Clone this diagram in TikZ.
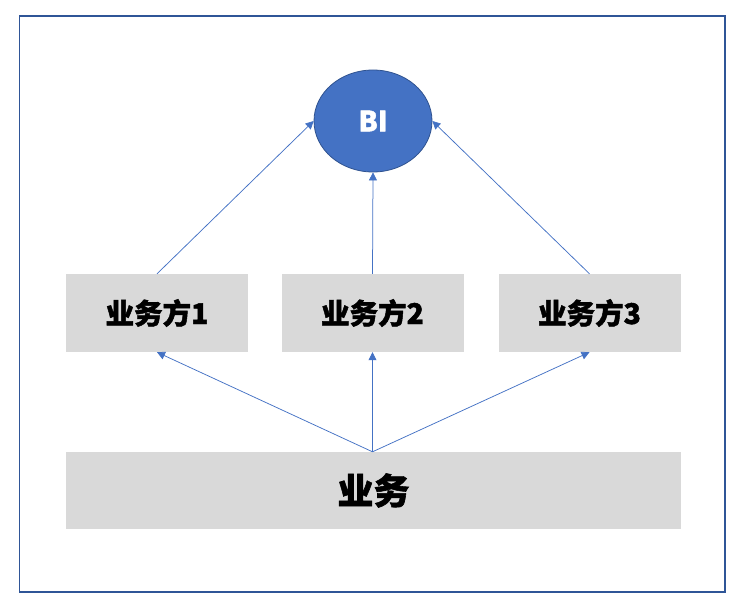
\documentclass[tikz,border=0pt]{standalone}
\usepackage{fontspec}
\newfontfamily\cjk{Noto Sans CJK SC}[BoldFeatures={FakeBold=1.6}]
\usetikzlibrary{shapes.geometric,arrows.meta}
\definecolor{bluefill}{HTML}{4472C4}
\definecolor{blueline}{HTML}{2F528F}
\definecolor{framecol}{HTML}{2F5597}
\definecolor{boxgray}{HTML}{D9D9D9}
\begin{document}
\begin{tikzpicture}[x=1pt, y=-1pt,
  party/.style={shape=rectangle, fill=boxgray, inner sep=0pt, minimum width=182pt, minimum height=78pt, font=\cjk\bfseries\fontsize{28.5}{28.5}\selectfont},
  base/.style={shape=rectangle, fill=boxgray, inner sep=0pt, minimum width=615pt, minimum height=77pt, font=\cjk\bfseries\fontsize{36}{36}\selectfont},
  bistyle/.style={shape=ellipse, fill=bluefill, draw=blueline, line width=0.8pt, inner sep=0pt, minimum width=118pt, minimum height=102pt, text=white, font=\cjk\bfseries\fontsize{28}{28}\selectfont},
  link/.style={draw=bluefill, line width=0.75pt, -{Triangle[length=8pt, width=8pt]}},
]
\useasboundingbox (0,0) rectangle (741,604);

%frame
\draw[framecol, line width=1.5pt] (19.5,16) rectangle (725,592);

%nodes
\node (bi) at (373,121) [bistyle] {BI};
\node (bf1) at (157,313) [party] {业务方1};
\node (bf2) at (372.5,313) [party] {业务方2};
\node (bf3) at (589.5,313) [party] {业务方3};
\node (yw) at (373.5,490.5) [base] {业务};

%arrows up to BI
\draw[link] (bf1.north) -- (bi.west);
\draw[link] (bf2.north) -- (bi.south);
\draw[link] (bf3.north) -- (bi.east);

%arrows from 业务
\draw[link] (yw.north -| bf2.south) -- (bf1.south);
\draw[link] (yw.north -| bf2.south) -- (bf2.south);
\draw[link] (yw.north -| bf2.south) -- (bf3.south);

\end{tikzpicture}
\end{document}
